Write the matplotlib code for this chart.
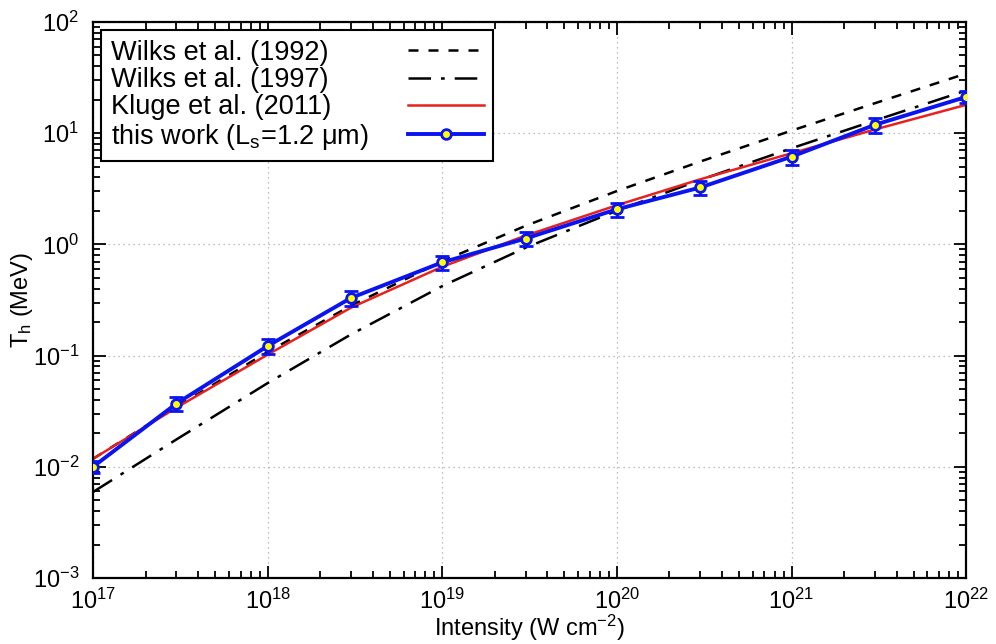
import matplotlib

matplotlib.use("Agg")
import matplotlib.pyplot as plt
from matplotlib.lines import Line2D
import numpy as np

plt.rcParams["font.family"] = ["Liberation Sans", "DejaVu Sans"]
plt.rcParams["mathtext.fontset"] = "custom"
plt.rcParams["mathtext.rm"] = "Liberation Sans"
plt.rcParams["mathtext.it"] = "Liberation Sans"
plt.rcParams["mathtext.default"] = "regular"

# intensity grid (W cm^-2)
intensity = [1e17, 3e17, 1e18, 3e18, 1e19, 3e19, 1e20, 3e20, 1e21, 3e21, 1e22]

# hot electron temperature (MeV)
wilks_1992 = [0.0118, 0.0346, 0.108, 0.281, 0.706, 1.47, 3.02, 5.56, 10.55, 18.6, 34.4]
wilks_1997 = [0.00593, 0.0176, 0.0566, 0.155, 0.422, 0.935, 2.01, 3.80, 7.32, 13.0, 24.2]
kluge_2011 = [0.0118, 0.034, 0.102, 0.27, 0.63, 1.2, 2.25, 3.85, 6.6, 10.8, 18.0]
this_work = [0.0100, 0.0370, 0.122, 0.33, 0.69, 1.13, 2.07, 3.25, 6.15, 11.9, 21.2]
this_work_err = [0.0012, 0.0055, 0.018, 0.05, 0.10, 0.17, 0.31, 0.49, 0.92, 1.8, 2.6]

labels = ["Wilks et al. (1992)", "Wilks et al. (1997)", "Kluge et al. (2011)",
          "this work (L$_s$=1.2 μm)"]

BLUE = "#0a14f0"
RED = "#e8211f"

fig = plt.figure(figsize=(9.96, 6.44), dpi=100)
ax = fig.add_axes([0.0934, 0.1025, 0.8766, 0.8633])

h1, = ax.plot(intensity, wilks_1992, color="black", lw=1.8, ls=(0, (4, 4)))
h2, = ax.plot(intensity, wilks_1997, color="black", lw=1.8, ls=(0, (9, 4, 1.5, 4)))
h3, = ax.plot(intensity, kluge_2011, color=RED, lw=1.8)
ax.errorbar(intensity, this_work, yerr=this_work_err, color=BLUE, lw=2.8,
            marker="o", ms=7, mfc="#ffff00", mec=BLUE, mew=2,
            elinewidth=2, capsize=5, capthick=2, zorder=5)
# legend handle for the errorbar series (line + marker only, as in the original)
h4 = Line2D([], [], color=BLUE, lw=2.8, marker="o", ms=7, mfc="#ffff00", mec=BLUE, mew=2)

ax.set_xscale("log")
ax.set_yscale("log")
ax.set_xlim(1e17, 1e22)
ax.set_ylim(1e-3, 1e2)

ax.grid(True, which="major", ls=(0, (1, 3)), color="#aaaaaa", lw=0.9)
ax.tick_params(which="both", direction="in", top=True, right=True, labelsize=17)
ax.tick_params(which="major", length=9, width=1.3)
ax.tick_params(which="minor", length=5, width=1.3)
ax.tick_params(axis="x", pad=8)
ax.tick_params(axis="y", pad=10)
for sp in ax.spines.values():
    sp.set_linewidth(1.6)

ax.set_xlabel("Intensity (W cm$^{-2}$)", fontsize=17, labelpad=-1)
ax.set_ylabel("T$_h$ (MeV)", fontsize=17, labelpad=-2)

leg = ax.legend([h1, h2, h3, h4], labels, loc="upper left", fontsize=19.5,
                markerfirst=False, handlelength=2.8, numpoints=1,
                frameon=True, fancybox=False, edgecolor="black", borderpad=0.35,
                labelspacing=0.05, handletextpad=1.45, borderaxespad=0.3)
leg.get_frame().set_linewidth(1.5)
leg.get_frame().set_alpha(1)

# left-align the label texts while keeping the line samples in one column
fig.canvas.draw()
renderer = fig.canvas.get_renderer()
texts = leg.get_texts()
widths = [t.get_window_extent(renderer).width for t in texts]
wmax = max(widths)
rows = [row for col in leg._legend_handle_box.get_children() for row in col.get_children()]
for row, w in zip(rows, widths):
    row.sep = row.sep + (wmax - w) * 72.0 / fig.dpi

fig.savefig("out.png", dpi=100)
